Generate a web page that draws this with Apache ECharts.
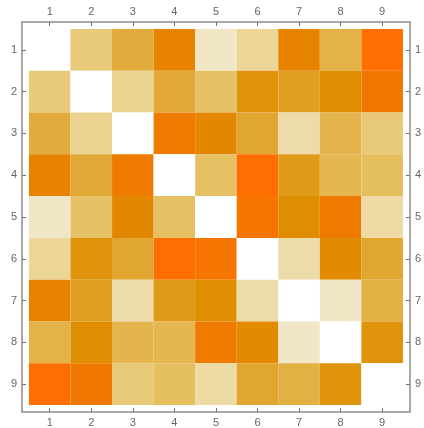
<!DOCTYPE html>
<html>
<head>
<meta charset="utf-8">
<script src="https://cdn.jsdelivr.net/npm/echarts@6/dist/echarts.min.js"></script>
<style>
html,body{margin:0;padding:0;background:#fff;}
#chart{width:424px;height:428px;}
</style>
</head>
<body>
<div id="chart"></div>
<script>
// tick labels / categories (rows and columns)
var categories = [1, 2, 3, 4, 5, 6, 7, 8, 9];

// matrix values, one array per row (row 1 at top)
var row1 = [0.0, 2.6, 4.0, 7.0, 1.0, 2.0, 7.0, 3.7, 9.0];
var row2 = [2.6, 0.0, 2.1, 4.15, 3.0, 5.5, 4.7, 6.0, 8.0];
var row3 = [4.0, 2.1, 0.0, 7.7, 6.6, 4.35, 1.6, 3.6, 2.65];
var row4 = [7.0, 4.15, 7.7, 0.0, 3.05, 9.0, 5.0, 3.5, 3.2];
var row5 = [1.0, 3.0, 6.6, 3.05, 0.0, 8.3, 6.0, 7.7, 1.7];
var row6 = [2.0, 5.5, 4.35, 9.0, 8.3, 0.0, 1.6, 6.4, 4.35];
var row7 = [7.0, 4.7, 1.6, 5.0, 6.0, 1.6, 0.0, 1.0, 3.8];
var row8 = [3.7, 6.0, 3.6, 3.5, 7.7, 6.4, 1.0, 0.0, 5.5];
var row9 = [9.0, 8.0, 2.65, 3.2, 1.7, 4.35, 3.8, 5.5, 0.0];

var rows = [row1, row2, row3, row4, row5, row6, row7, row8, row9];

var data = [];
rows.forEach(function (r, i) {
  r.forEach(function (v, j) {
    data.push([categories[j], categories[i], v]);
  });
});

var chart = echarts.init(document.getElementById('chart'), null, {renderer: 'canvas'});

var lo = 0.5 - 7 / 41.889;
var hi = 9.5 + 7 / 41.889;
var frameColor = '#a8a8a8';
var labelColor = '#666666';

function mkAxis(pos, isY) {
  return {
    type: 'value',
    position: pos,
    min: lo,
    max: hi,
    inverse: isY,
    splitLine: {show: false},
    axisLine: {show: true, onZero: false, lineStyle: {color: frameColor, width: 2}},
    axisTick: {show: true, inside: true, length: 4, customValues: categories,
      lineStyle: {color: '#777', width: 1}},
    axisLabel: {show: true, customValues: categories, color: labelColor,
      fontFamily: 'Liberation Sans, Arial, sans-serif', fontSize: 11,
      margin: isY ? 5 : 5}
  };
}

chart.setOption({
  animation: false,
  grid: {left: 22, top: 22, right: 11, bottom: 16, containLabel: false},
  xAxis: [mkAxis('bottom', false), mkAxis('top', false)],
  yAxis: [mkAxis('left', true), mkAxis('right', true)],
  visualMap: {
    show: false,
    type: 'continuous',
    dimension: 2,
    min: 0,
    max: 9,
    seriesIndex: 0,
    inRange: {
      color: ['#ffffff', '#F1E6C6', '#EBD597', '#E6C266', '#E2AC3C',
              '#DF9A18', '#DE8E00', '#E88300', '#F07800', '#FF6E00']
    }
  },
  series: [{
    type: 'custom',
    xAxisIndex: 0,
    yAxisIndex: 0,
    encode: {x: 0, y: 1},
    data: data,
    renderItem: function (params, api) {
      var x = api.value(0), y = api.value(1);
      var p0 = api.coord([x - 0.5, y - 0.5]);
      var p1 = api.coord([x + 0.5, y + 0.5]);
      return {
        type: 'rect',
        shape: {
          x: Math.min(p0[0], p1[0]),
          y: Math.min(p0[1], p1[1]),
          width: Math.abs(p1[0] - p0[0]),
          height: Math.abs(p1[1] - p0[1])
        },
        style: {fill: api.visual('color'), stroke: null}
      };
    }
  }]
});
</script>
</body>
</html>
